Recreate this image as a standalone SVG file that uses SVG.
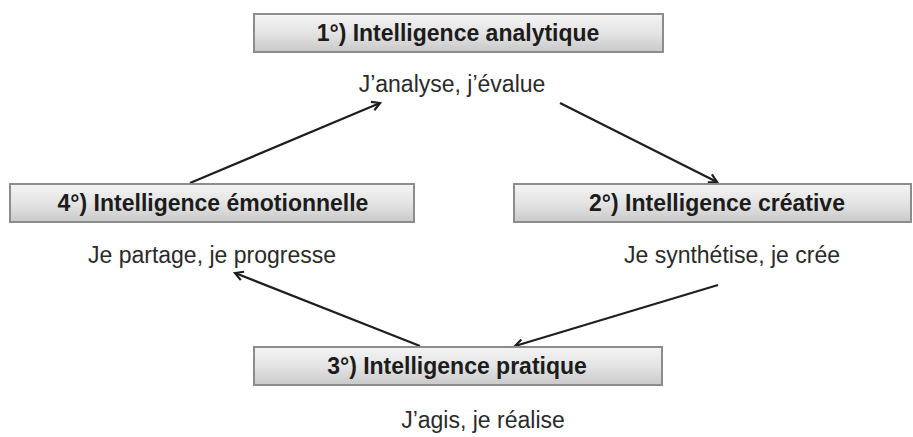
<svg xmlns="http://www.w3.org/2000/svg" width="913" height="437" viewBox="0 0 913 437">
  <style>
    .box { fill: url(#boxFill); stroke: #8c8c8c; stroke-width: 2; }
    .title { font-family: "Liberation Sans", Arial, sans-serif; font-weight: bold; font-size: 23px; fill: #1c1c1c; text-anchor: middle; }
    .sub { font-family: "Liberation Sans", Arial, sans-serif; font-size: 23px; fill: #2a2a2a; text-anchor: middle; }
    .link { stroke: #1e1e1e; stroke-width: 2.2; fill: none; marker-end: url(#arrow); }
  </style>
  <defs>
    <linearGradient id="boxFill" x1="0" y1="0" x2="0" y2="1">
      <stop offset="0" stop-color="#f4f4f4"/>
      <stop offset="0.5" stop-color="#e4e4e4"/>
      <stop offset="1" stop-color="#c9c9c9"/>
    </linearGradient>
    <marker id="arrow" viewBox="0 0 12 12" refX="10" refY="6" markerWidth="12" markerHeight="12" markerUnits="userSpaceOnUse" orient="auto">
      <polyline points="2,1.5 10,6 2,10.5" fill="none" stroke="#1e1e1e" stroke-width="2.2"/>
    </marker>
  </defs>
  <rect width="913" height="437" fill="#ffffff"/>

  <g id="connectors">
    <line class="link" x1="190" y1="183" x2="380" y2="103"/>
    <line class="link" x1="560" y1="103" x2="717" y2="182"/>
    <line class="link" x1="718" y1="285" x2="515" y2="346"/>
    <line class="link" x1="420" y1="346" x2="235" y2="273"/>
  </g>

  <g id="node-analytique">
    <rect class="box" x="254" y="14" width="409" height="38"/>
    <text class="title" x="458" y="41">1°) Intelligence analytique</text>
    <text class="sub" x="452" y="92">J’analyse, j’évalue</text>
  </g>

  <g id="node-creative">
    <rect class="box" x="514" y="184" width="397" height="38"/>
    <text class="title" x="717" y="211">2°) Intelligence créative</text>
    <text class="sub" x="732" y="263">Je synthétise, je crée</text>
  </g>

  <g id="node-pratique">
    <rect class="box" x="254" y="347" width="408" height="38"/>
    <text class="title" x="457" y="374">3°) Intelligence pratique</text>
    <text class="sub" x="483" y="428">J’agis, je réalise</text>
  </g>

  <g id="node-emotionnelle">
    <rect class="box" x="10" y="184" width="404" height="38"/>
    <text class="title" x="213" y="211">4°) Intelligence émotionnelle</text>
    <text class="sub" x="212" y="263">Je partage, je progresse</text>
  </g>
</svg>
